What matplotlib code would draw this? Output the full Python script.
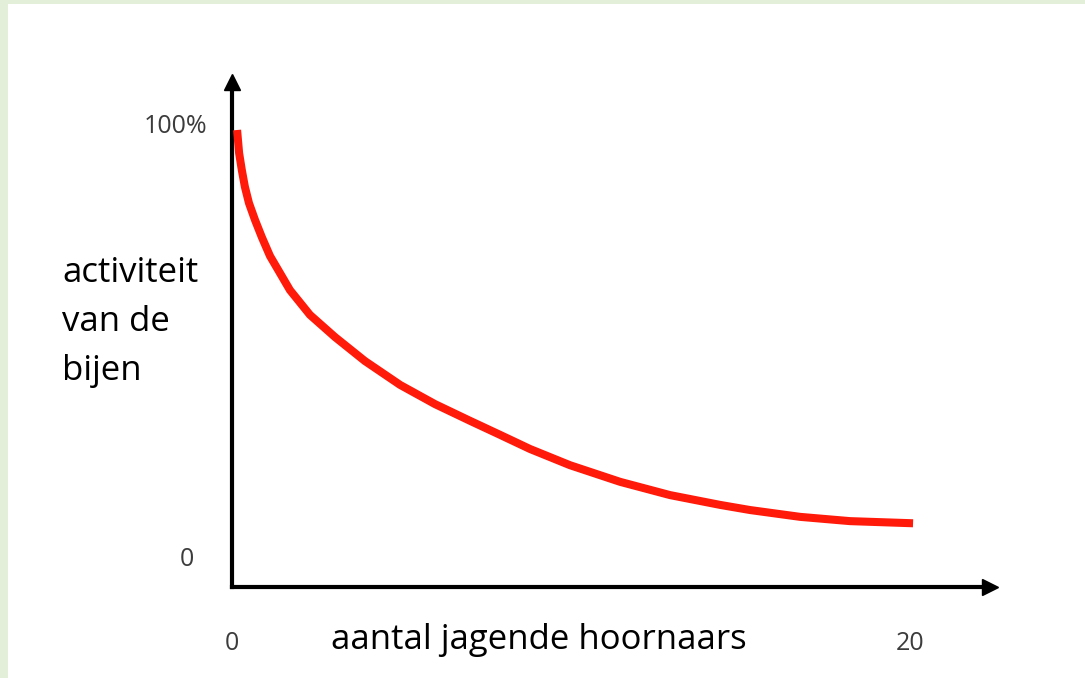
import matplotlib.pyplot as plt
from matplotlib.patches import Rectangle
from matplotlib.transforms import ScaledTranslation

# data (x = number of hornets, y = bee activity in %)
hornets = [0.15, 0.21, 0.29, 0.38, 0.50, 0.68, 0.88, 1.12, 1.71, 2.30, 3.04, 3.92,
           4.96, 5.99, 7.02, 7.91, 8.79, 9.97, 11.45, 12.92, 14.40, 15.28, 16.76,
           18.23, 20.09]
activity = [100, 94.6, 90.6, 86.7, 82.9, 78.9, 74.9, 70.5, 62.5, 56.7, 51.5, 45.9,
            40.3, 35.8, 31.9, 28.6, 25.3, 21.5, 17.6, 14.5, 12.2, 11.0, 9.4,
            8.4, 7.9]

x_ticks = [0, 20]
x_ticklabels = ['0', '20']
y_ticks = [0, 100]
y_ticklabels = ['0', '100%']

W, H = 1085, 678
fig = plt.figure(figsize=(W / 100, H / 100), dpi=100)
fig.patch.set_facecolor('#e3efd9')
fig.patches.append(Rectangle((8 / W, 0), 1, 1 - 4 / H, transform=fig.transFigure,
                             facecolor='white', edgecolor='none', zorder=-5))

# axes box: left spine at px 232, bottom spine at px 587, arrow tips at px 990 / 82
left, right, bottom, top = 232, 990, 587, 82
ax = fig.add_axes([left / W, 1 - bottom / H, (right - left) / W, (bottom - top) / H])
ax.set_facecolor('none')
ax.set_zorder(2)

px_x = (910 - 232) / 20.0
px_y = (557 - 130) / 100.0
ax.set_xlim(0, (right - left) / px_x)
ax.set_ylim(-(bottom - 557) / px_y, 100 + (130 - top) / px_y)

ax.plot(hornets, activity, color='#ff1a0a', linewidth=5.8, solid_capstyle='butt',
        solid_joinstyle='round', zorder=3)

for s in ['top', 'right']:
    ax.spines[s].set_visible(False)
for s in ['left', 'bottom']:
    ax.spines[s].set_linewidth(3)
    ax.spines[s].set_color('black')
ax.plot(1, 0, '>', color='black', markersize=11, transform=ax.transAxes, clip_on=False)
ax.plot(0, 1, '^', color='black', markersize=11, transform=ax.transAxes, clip_on=False)

tick_font = dict(family='Open Sans', size=18, color='#3c3c3c')
ax.set_xticks(x_ticks)
ax.set_xticklabels(x_ticklabels, **tick_font)
ax.set_yticks(y_ticks)
ax.set_yticklabels(y_ticklabels, **tick_font)
ax.tick_params(axis='x', length=0, pad=32)
ax.tick_params(axis='y', length=0, pad=18)

# the hand-placed labels in the reference are not aligned to each other
ylabels = ax.get_yticklabels()
ylabels[0].set_transform(ylabels[0].get_transform() + ScaledTranslation(-13 / 100, 0, fig.dpi_scale_trans))
ylabels[1].set_transform(ylabels[1].get_transform() + ScaledTranslation(0, 7 / 100, fig.dpi_scale_trans))

fig.text(539 / W, 1 - 640 / H, 'aantal jagende hoornaars', family='Open Sans', size=25,
         color='black', ha='center', va='center')
fig.text(62 / W, 1 - 322 / H, 'activiteit\nvan de\nbijen', family='Open Sans', size=25,
         color='black', ha='left', va='center', linespacing=1.56)

fig.savefig('out.png', dpi=100, facecolor=fig.get_facecolor())
